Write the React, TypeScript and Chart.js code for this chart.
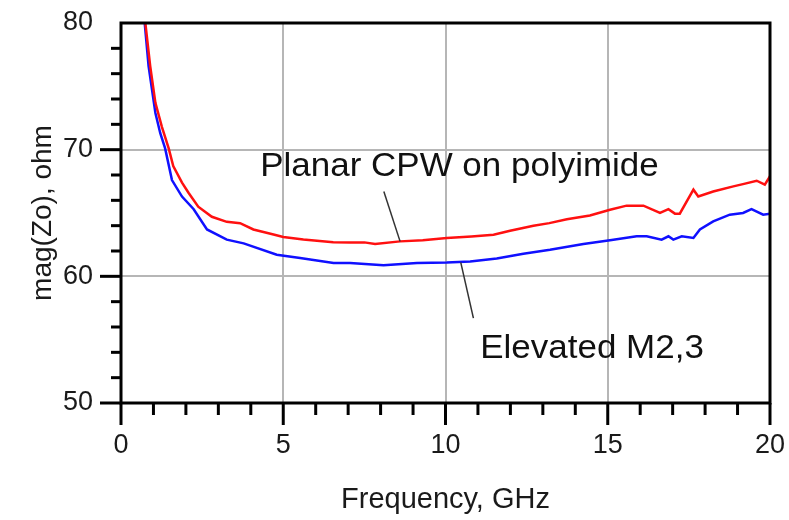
import React, { useEffect, useRef } from "react";
import { Chart, registerables } from "chart.js";

Chart.register(...registerables);

// Planar CPW on polyimide (red)
const planarFreq = [0.75, 0.9, 1.06, 1.26, 1.47, 1.61, 1.88, 2.08, 2.38, 2.8, 3.26, 3.67, 4.08, 4.7, 5.0, 5.62, 6.54, 7.06, 7.5, 7.83, 8.6, 9.3, 10.04, 10.8, 11.48, 11.99, 12.71, 13.2, 13.74, 14.45, 15.07, 15.58, 16.1, 16.61, 16.87, 17.07, 17.22, 17.64, 17.79, 18.25, 18.87, 19.2, 19.59, 19.84, 20.0];
const planarZo = [80, 76.6, 73.7, 71.8, 70.1, 68.7, 67.4, 66.6, 65.5, 64.7, 64.3, 64.2, 63.7, 63.3, 63.1, 62.9, 62.7, 62.68, 62.68, 62.56, 62.76, 62.85, 63.03, 63.15, 63.29, 63.6, 64.0, 64.2, 64.5, 64.8, 65.26, 65.58, 65.58, 65.0, 65.3, 64.95, 64.95, 66.84, 66.3, 66.7, 67.1, 67.3, 67.55, 67.24, 67.9];

// Elevated M2,3 (blue)
const elevatedFreq = [0.73, 0.85, 1.06, 1.21, 1.36, 1.57, 1.88, 2.24, 2.65, 3.26, 3.78, 4.8, 5.52, 6.55, 7.06, 8.09, 9.12, 10.04, 10.76, 11.58, 12.4, 13.22, 14.25, 15.07, 15.89, 16.2, 16.66, 16.87, 17.02, 17.28, 17.64, 17.84, 18.25, 18.76, 19.17, 19.43, 19.79, 20.0];
const elevatedZo = [80, 76.6, 72.9, 71.3, 70.1, 67.6, 66.3, 65.3, 63.7, 62.9, 62.6, 61.7, 61.45, 61.05, 61.05, 60.87, 61.05, 61.1, 61.18, 61.4, 61.79, 62.1, 62.56, 62.84, 63.16, 63.16, 62.9, 63.16, 62.9, 63.16, 63.03, 63.7, 64.34, 64.87, 65.0, 65.3, 64.87, 64.95];

const xTickLabels = [0, 5, 10, 15, 20];
const yTickLabels = [50, 60, 70, 80];

const xTitle = "Frequency, GHz";
const yTitle = "mag(Zo), ohm";

// annotation labels and leader lines, in data coordinates
const planarLabel = { text: "Planar CPW on polyimide", x: 4.29, y: 67.9 };
const planarLeader = { x1: 8.1, y1: 66.7, x2: 8.6, y2: 62.76 };
const elevatedLabel = { text: "Elevated M2,3", x: 11.07, y: 53.56 };
const elevatedLeader = { x1: 10.47, y1: 61.1, x2: 10.86, y2: 56.7 };

const FONT = "'Liberation Sans', Arial, Helvetica, sans-serif";

const framePlugin = {
  id: "framePlugin",
  afterDatasetsDraw(chart: any) {
    const { ctx, chartArea, scales } = chart;
    const xs = scales.x;
    const ys = scales.y;
    const { left, right, top, bottom } = chartArea;
    ctx.save();
    ctx.strokeStyle = "#000";
    ctx.lineWidth = 3;
    ctx.lineCap = "butt";
    ctx.strokeRect(left, top, right - left, bottom - top);

    // x ticks: minor every 1, major every 5
    for (let f = 0; f <= 20; f += 1) {
      const px = xs.getPixelForValue(f);
      const len = f % 5 === 0 ? 22 : 12;
      ctx.beginPath();
      ctx.moveTo(px, bottom);
      ctx.lineTo(px, bottom + len);
      ctx.stroke();
    }
    // y ticks: minor every 2, major every 10
    for (let v = 50; v < 80; v += 2) {
      const py = ys.getPixelForValue(v);
      const len = v % 10 === 0 ? 21 : 10;
      ctx.beginPath();
      ctx.moveTo(left, py);
      ctx.lineTo(left - len, py);
      ctx.stroke();
    }

    // annotations
    ctx.strokeStyle = "#333";
    ctx.lineWidth = 1.5;
    for (const l of [planarLeader, elevatedLeader]) {
      ctx.beginPath();
      ctx.moveTo(xs.getPixelForValue(l.x1), ys.getPixelForValue(l.y1));
      ctx.lineTo(xs.getPixelForValue(l.x2), ys.getPixelForValue(l.y2));
      ctx.stroke();
    }
    ctx.fillStyle = "#111";
    ctx.font = `33px ${FONT}`;
    ctx.textBaseline = "alphabetic";
    ctx.textAlign = "left";
    for (const lb of [planarLabel, elevatedLabel]) {
      const px = xs.getPixelForValue(lb.x);
      const py = ys.getPixelForValue(lb.y);
      ctx.save();
      ctx.translate(px, py);
      ctx.scale(1.06, 1);
      ctx.fillText(lb.text, 0, 0);
      ctx.restore();
    }
    ctx.restore();
  },
};

function zeroPad(s: any) {
  s.paddingTop = 0;
  s.paddingBottom = 0;
  s.paddingLeft = 0;
  s.paddingRight = 0;
}

export default function App() {
  const ref = useRef<HTMLCanvasElement | null>(null);
  useEffect(() => {
    document.body.style.margin = "0";
    if (!ref.current) return;
    const chart = new Chart(ref.current, {
      type: "line",
      data: {
        datasets: [
          {
            label: "Planar CPW on polyimide",
            data: planarFreq.map((f, i) => ({ x: f, y: planarZo[i] })),
            borderColor: "#ff1010",
            borderWidth: 2.5,
            pointRadius: 0,
            tension: 0,
            fill: false,
          },
          {
            label: "Elevated M2,3",
            data: elevatedFreq.map((f, i) => ({ x: f, y: elevatedZo[i] })),
            borderColor: "#1010ff",
            borderWidth: 2.5,
            pointRadius: 0,
            tension: 0,
            fill: false,
          },
        ],
      },
      options: {
        animation: false,
        responsive: false,
        devicePixelRatio: 1,
        layout: { padding: { top: 23, right: 19, left: 0, bottom: 0 } },
        plugins: { legend: { display: false }, tooltip: { enabled: false } },
        scales: {
          x: {
            type: "linear",
            min: 0,
            max: 20,
            afterFit: (s: any) => {
              s.height = 117;
              zeroPad(s);
            },
            afterBuildTicks: (s: any) => {
              s.ticks = xTickLabels.map((v) => ({ value: v }));
            },
            border: { display: false },
            grid: {
              drawTicks: false,
              lineWidth: 2,
              color: (c: any) =>
                c.tick && c.tick.value > 0 && c.tick.value < 20 ? "#b6b6b6" : "rgba(0,0,0,0)",
            },
            ticks: {
              padding: 26,
              color: "#1a1a1a",
              font: { family: FONT, size: 27 },
              maxRotation: 0,
              autoSkip: false,
            },
            title: {
              display: true,
              text: xTitle,
              color: "#1a1a1a",
              font: { family: FONT, size: 29 },
              padding: { top: 0, bottom: 3 },
            },
          },
          y: {
            type: "linear",
            min: 50,
            max: 80,
            afterFit: (s: any) => {
              s.width = 121;
              zeroPad(s);
            },
            afterBuildTicks: (s: any) => {
              s.ticks = yTickLabels.map((v) => ({ value: v }));
            },
            border: { display: false },
            grid: {
              drawTicks: false,
              lineWidth: 2,
              color: (c: any) =>
                c.tick && c.tick.value > 50 && c.tick.value < 80 ? "#b6b6b6" : "rgba(0,0,0,0)",
            },
            ticks: {
              padding: 28,
              color: "#1a1a1a",
              font: { family: FONT, size: 27 },
              autoSkip: false,
            },
            title: {
              display: true,
              text: yTitle,
              color: "#1a1a1a",
              font: { family: FONT, size: 28 },
              padding: { top: 26, bottom: 0 },
            },
          },
        },
      },
      plugins: [framePlugin],
    } as any);
    return () => chart.destroy();
  }, []);
  return (
    <div style={{ position: "absolute", left: 0, top: 0, width: 789, height: 520 }}>
      <canvas ref={ref} width={789} height={520} />
    </div>
  );
}
